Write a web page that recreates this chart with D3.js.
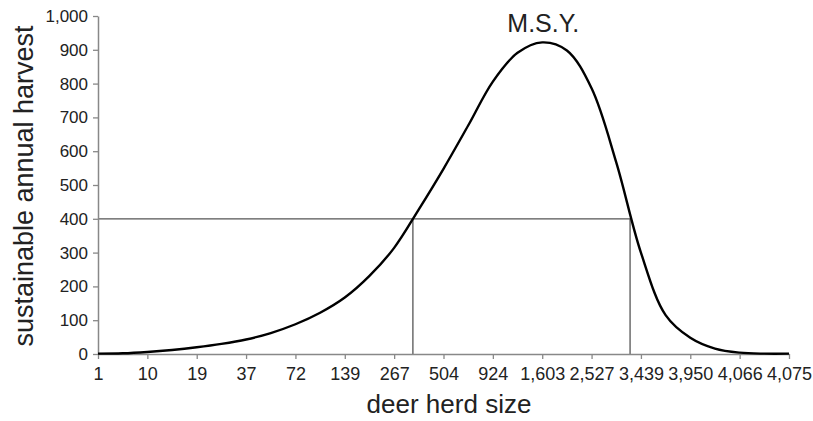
<!DOCTYPE html>
<html>
<head>
<meta charset="utf-8">
<script src="https://cdn.jsdelivr.net/npm/d3@7"></script>
<style>
  body { margin: 0; background: #fff; }
  text { font-family: "Liberation Sans", Arial, sans-serif; fill: #222; }
</style>
</head>
<body>
<div id="chart"></div>
<script>
// category labels on the x axis (deer herd size)
var herdLabels = ["1", "10", "19", "37", "72", "139", "267", "504", "924",
                  "1,603", "2,527", "3,439", "3,950", "4,066", "4,075"];

// curve, one value every half category
var curveSteps = [0, 0.5, 1, 1.5, 2, 2.5, 3, 3.5, 4, 4.5, 5, 5.5, 6, 6.5, 7,
                  7.5, 8, 8.5, 9, 9.5, 10, 10.5, 11, 11.5, 12, 12.5, 13, 13.5, 14];
var harvest = [1, 2, 6, 12, 20, 30, 43, 62, 88, 122, 167, 231, 314, 428, 548,
               676, 806, 891, 922, 898, 786, 567, 300, 115, 48, 16, 4, 1, 1];

var yTicks = [0, 100, 200, 300, 400, 500, 600, 700, 800, 900, 1000];

// reference level and where it meets the curve (in category units)
var refHarvest = 400;
var refCross = [6.38, 10.78];
var msy = {step: 9.0, value: 922, label: "M.S.Y."};

var width = 813, height = 421;
var margin = {top: 16, right: 24, bottom: 67, left: 98};

var svg = d3.select("#chart").append("svg")
  .attr("width", width)
  .attr("height", height);

var x = d3.scaleLinear()
  .domain([0, herdLabels.length - 1])
  .range([margin.left, width - margin.right]);

var y = d3.scaleLinear()
  .domain([0, 1000])
  .range([height - margin.bottom, margin.top]);

// reference lines
var ref = svg.append("g")
  .attr("stroke", "#555")
  .attr("stroke-width", 1.3);

ref.append("line")
  .attr("x1", x(0)).attr("x2", x(refCross[1]))
  .attr("y1", y(refHarvest)).attr("y2", y(refHarvest));

ref.selectAll("line.v")
  .data(refCross)
  .enter().append("line")
  .attr("class", "v")
  .attr("x1", function(d){ return x(d); })
  .attr("x2", function(d){ return x(d); })
  .attr("y1", y(refHarvest))
  .attr("y2", y(0));

// axes
var yAxis = svg.append("g")
  .attr("transform", "translate(" + margin.left + ",0)")
  .call(d3.axisLeft(y).tickValues(yTicks).tickFormat(d3.format(",")).tickSize(5).tickSizeOuter(0).tickPadding(5));

var xAxis = svg.append("g")
  .attr("transform", "translate(0," + y(0) + ")")
  .call(d3.axisBottom(x)
    .tickValues(d3.range(herdLabels.length))
    .tickFormat(function(i){ return herdLabels[i]; })
    .tickSize(5).tickSizeOuter(0).tickPadding(8));

[xAxis, yAxis].forEach(function(a){
  a.select(".domain").attr("stroke", "#888").attr("stroke-width", 1.5);
  a.selectAll(".tick line").attr("stroke", "#888").attr("stroke-width", 1.3);
  a.selectAll(".tick text")
    .style("font-family", "'Liberation Sans', Arial, sans-serif")
    .attr("fill", "#222");
});
yAxis.selectAll(".tick text").style("font-size", "17px");
xAxis.selectAll(".tick text").style("font-size", "18px");

// curve
var line = d3.line()
  .x(function(d, i){ return x(curveSteps[i]); })
  .y(function(d){ return y(d); })
  .curve(d3.curveCatmullRom.alpha(0.5));

svg.append("path")
  .datum(harvest)
  .attr("d", line)
  .attr("fill", "none")
  .attr("stroke", "#000")
  .attr("stroke-width", 2.4);

// M.S.Y. label
svg.append("text")
  .attr("x", x(msy.step) + 1)
  .attr("y", y(msy.value) - 10)
  .attr("text-anchor", "middle")
  .style("font-size", "25px")
  .text(msy.label);

// axis titles
svg.append("text")
  .attr("x", 449)
  .attr("y", 413)
  .attr("text-anchor", "middle")
  .style("font-size", "26px")
  .text("deer herd size");

svg.append("text")
  .attr("transform", "translate(33,186) rotate(-90)")
  .attr("text-anchor", "middle")
  .style("font-size", "27px")
  .text("sustainable annual harvest");
</script>
</body>
</html>
